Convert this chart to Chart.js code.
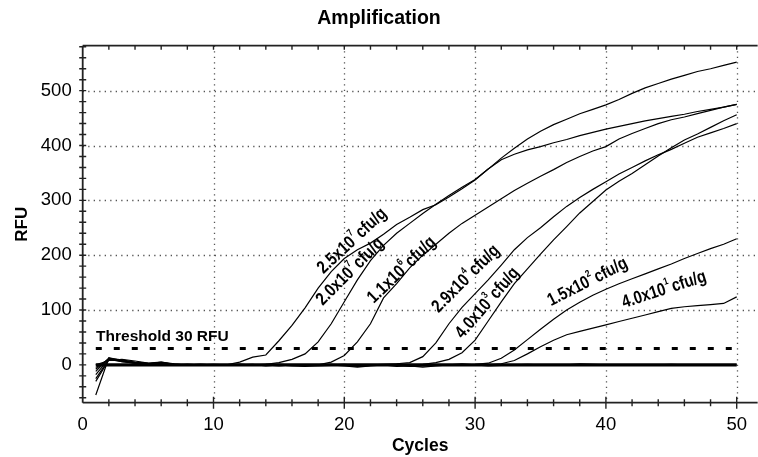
<!DOCTYPE html>
<html>
<head>
<meta charset="UTF-8">
<title>Amplification</title>
<script src="https://cdn.jsdelivr.net/npm/chart.js@4.4.0/dist/chart.umd.min.js"></script>
<style>
html,body{margin:0;padding:0;background:#fff;overflow:hidden}
#wrap{width:758px;height:457px}
</style>
</head>
<body>
<div id="wrap"><canvas id="myChart"></canvas></div>
<script>
// cycles 1..50
var cycles=[1,2,3,4,5,6,7,8,9,10,11,12,13,14,15,16,17,18,19,20,21,22,23,24,25,26,27,28,29,30,31,32,33,34,35,36,37,38,39,40,41,42,43,44,45,46,47,48,49,50];

// RFU per sample
var s25e7=[-25,10,8,3,2,1,0,1,0,1, 0,5,14,18,44,72,104,140,170,194, 210,222,238,256,269,283,292,306,321,337, 357,374,384,392,398,405,411,418,424,430, 435,440,445,449,453,457,462,466,470,475];
var s20e7=[-18,11,7,4,1,3,0,0,1,0, -1,0,0,1,4,10,20,42,75,115, 155,190,218,240,258,276,293,309,324,338, 357,377,395,412,426,438,448,458,466,474, 484,495,505,513,521,528,535,540,546,552];
var s11e6=[-12,12,6,3,2,0,1,0,0,0, 0,-1,0,1,0,0,-1,0,5,17, 42,75,122,148,177,200,220,240,258,273, 288,303,318,331,344,356,369,380,390,398, 412,422,431,440,447,452,458,464,470,475];
var s29e4=[-55,13,8,4,2,5,1,0,0,0, 0,0,1,-2,0,-1,0,0,1,0, -2,0,1,2,4,15,40,75,105,130, 155,182,210,232,250,270,289,305,320,334, 348,360,372,383,393,404,415,423,431,440];
var s40e3=[-8,12,9,5,3,2,1,0,0,-1, 0,1,0,0,-2,0,-1,0,0,1, -1,0,0,1,0,1,4,10,22,45, 80,115,148,175,202,228,252,277,298,319, 335,349,365,381,396,410,421,433,445,456];
var s15e2=[-5,10,6,3,2,4,1,0,0,0, 0,0,-1,0,0,-2,-3,-1,0,0, -2,-1,0,-3,-2,0,-1,0,0,1, 3,12,27,46,65,83,100,114,127,138, 148,157,166,175,184,194,203,212,220,230];
var s40e1=[-30,9,7,3,1,2,0,1,0,0, 0,0,0,-1,0,0,-1,-2,-1,0, -3,-1,0,0,-2,-4,-2,0,0,-1, 0,2,8,20,33,45,55,61,67,73, 79,85,91,97,103,106,108,110,112,124];
var ntc1=[0,8,10,7,3,5,2,0,1,0, 0,1,0,-1,1,0,-2,-1,0,-2, -4,-2,0,0,-3,-2,-1,0,2,0, -2,-1,0,1,0,-1,0,2,1,0, 0,-1,0,0,1,0,0,0,0,0];
var ntc0=[0,0,0,0,0,0,0,0,0,0, 0,0,0,0,0,0,0,0,0,0, 0,0,0,0,0,0,0,0,0,0, 0,0,0,0,0,0,0,0,0,0, 0,0,0,0,0,0,0,0,0,0];

var threshold=30;
var thresholdFrom=1, thresholdTo=50;

var xTickLabels=[0,10,20,30,40,50];
var yTickLabels=[0,100,200,300,400,500];

// curve labels: text parts + anchor (cycle, RFU) + angle
var curveLabels=[
	{base:"2.5x10",exp:"7",unit:"cfu/g",c:20.6,r:226,a:-43},
	{base:"2.0x10",exp:"7",unit:"cfu/g",c:20.45,r:170,a:-45},
	{base:"1.1x10",exp:"6",unit:"cfu/g",c:24.4,r:173,a:-44},
	{base:"2.9x10",exp:"4",unit:"cfu/g",c:29.3,r:157,a:-45},
	{base:"4.0x10",exp:"3",unit:"cfu/g",c:30.95,r:113,a:-49},
	{base:"1.5x10",exp:"2",unit:"cfu/g",c:38.6,r:151,a:-27},
	{base:"4.0x10",exp:"1",unit:"cfu/g",c:44.45,r:137,a:-18}
];

var FONT='"Liberation Sans", Arial, sans-serif';

function pts(arr){
	var out=[];
	for(var i=0;i<cycles.length;i++){ out.push({x:cycles[i],y:arr[i]}); }
	return out;
}
function curve(arr,w){
	return {data:pts(arr),borderColor:"#000",borderWidth:w||1.2,pointRadius:0,fill:false,tension:0};
}

//框、刻度、网格、标注
var deco={
	id:"deco",
	beforeDatasetsDraw:function(chart){
		var ctx=chart.ctx, a=chart.chartArea, xs=chart.scales.x, ys=chart.scales.y;
		ctx.save();
		ctx.strokeStyle="#555";
		ctx.lineWidth=1.3;
		ctx.setLineDash([1.3,4.2]);
		for(var i=1;i<yTickLabels.length;i++){
			var y=Math.round(ys.getPixelForValue(yTickLabels[i]))+0.5;
			ctx.beginPath();ctx.moveTo(a.left,y);ctx.lineTo(a.right,y);ctx.stroke();
		}
		for(var i=1;i<xTickLabels.length;i++){
			var x=Math.round(xs.getPixelForValue(xTickLabels[i]))+0.5;
			ctx.beginPath();ctx.moveTo(x,a.top);ctx.lineTo(x,a.bottom);ctx.stroke();
		}
		ctx.restore();
	},
	afterDatasetsDraw:function(chart){
		var ctx=chart.ctx, a=chart.chartArea, xs=chart.scales.x, ys=chart.scales.y;
		ctx.save();
		ctx.strokeStyle="#222";
		ctx.lineWidth=1.8;
		ctx.beginPath();
		ctx.moveTo(a.left,a.top);ctx.lineTo(a.right,a.top);
		ctx.moveTo(a.left,a.top);ctx.lineTo(a.left,a.bottom);
		ctx.moveTo(a.left,a.bottom);ctx.lineTo(a.right,a.bottom);
		ctx.stroke();
		ctx.lineWidth=1.4;
		ctx.beginPath();
		for(var v=-60;v<=580;v+=20){
			var y=ys.getPixelForValue(v);
			ctx.moveTo(a.left-3.5,y);ctx.lineTo(a.left+3.5,y);
		}
		for(var c=2;c<=50;c+=2){
			var x=xs.getPixelForValue(c);
			var l=(c%10==0)?6:3.5;
			ctx.moveTo(x,a.bottom-l);ctx.lineTo(x,a.bottom+l);
			ctx.moveTo(x,a.top);ctx.lineTo(x,a.top+4);
		}
		ctx.stroke();
		// threshold text
		ctx.fillStyle="#000";
		ctx.font="bold 15.5px "+FONT;
		ctx.textBaseline="middle";
		ctx.textAlign="left";
		ctx.fillText("Threshold 30 RFU",xs.getPixelForValue(1.02),ys.getPixelForValue(51));
		// curve labels
		for(var i=0;i<curveLabels.length;i++){
			var L=curveLabels[i];
			ctx.save();
			ctx.translate(xs.getPixelForValue(L.c),ys.getPixelForValue(L.r));
			ctx.rotate(L.a*Math.PI/180);
			ctx.scale(0.82,1);
			ctx.font="bold 18px "+FONT;
			var wb=ctx.measureText(L.base).width, wu=ctx.measureText(L.unit).width;
			ctx.font="bold 10px "+FONT;
			var we=ctx.measureText(L.exp).width;
			var tot=wb+we+3+wu, x0=-tot/2;
			ctx.font="bold 18px "+FONT;
			ctx.fillText(L.base,x0,0);
			ctx.fillText(L.unit,x0+wb+we+3,0);
			ctx.font="bold 10px "+FONT;
			ctx.fillText(L.exp,x0+wb+0.5,-7);
			ctx.restore();
		}
		ctx.restore();
	}
};

var ctx=document.getElementById("myChart").getContext("2d");
var myChart=new Chart(ctx,{
	type:"line",
	data:{
		datasets:[
			curve(ntc1),
			curve(s25e7),curve(s20e7),curve(s11e6),curve(s29e4),
			curve(s40e3),curve(s15e2),curve(s40e1),
			{data:[{x:thresholdFrom,y:threshold},{x:thresholdTo,y:threshold}],borderColor:"#000",borderWidth:3,borderDash:[6,12],pointRadius:0},
			curve(ntc0,3.2)
		]
	},
	options:{
		responsive:true,
		maintainAspectRatio:false,
		animation:false,
		events:[],
		layout:{padding:0},
		plugins:{
			legend:{display:false},
			tooltip:{enabled:false},
			title:{display:true,text:"Amplification",color:"#000",font:{family:FONT,size:19.5,weight:"bold"},padding:{top:7,bottom:15.3}}
		},
		scales:{
			x:{
				type:"linear",min:0,max:51.6,
				grid:{display:false,drawTicks:false},
				border:{display:false},
				ticks:{color:"#000",font:{family:FONT,size:18.5},padding:11,maxRotation:0},
				afterBuildTicks:function(s){ s.ticks=xTickLabels.map(function(v){return {value:v};}); },
				afterFit:function(s){ s.height=54.3; },
				title:{display:true,text:"Cycles",color:"#000",font:{family:FONT,size:17.5,weight:"bold"},padding:{top:4,bottom:0}}
			},
			y:{
				min:-69,max:582,
				grid:{display:false,drawTicks:false},
				border:{display:false},
				ticks:{color:"#000",font:{family:FONT,size:18.5},padding:11},
				afterBuildTicks:function(s){ s.ticks=yTickLabels.map(function(v){return {value:v};}); },
				afterFit:function(s){ s.width=82.7; },
				title:{display:true,text:"RFU",color:"#000",font:{family:FONT,size:17,weight:"bold"},padding:{top:12,bottom:0}}
			}
		}
	},
	plugins:[deco]
});
</script>
</body>
</html>
